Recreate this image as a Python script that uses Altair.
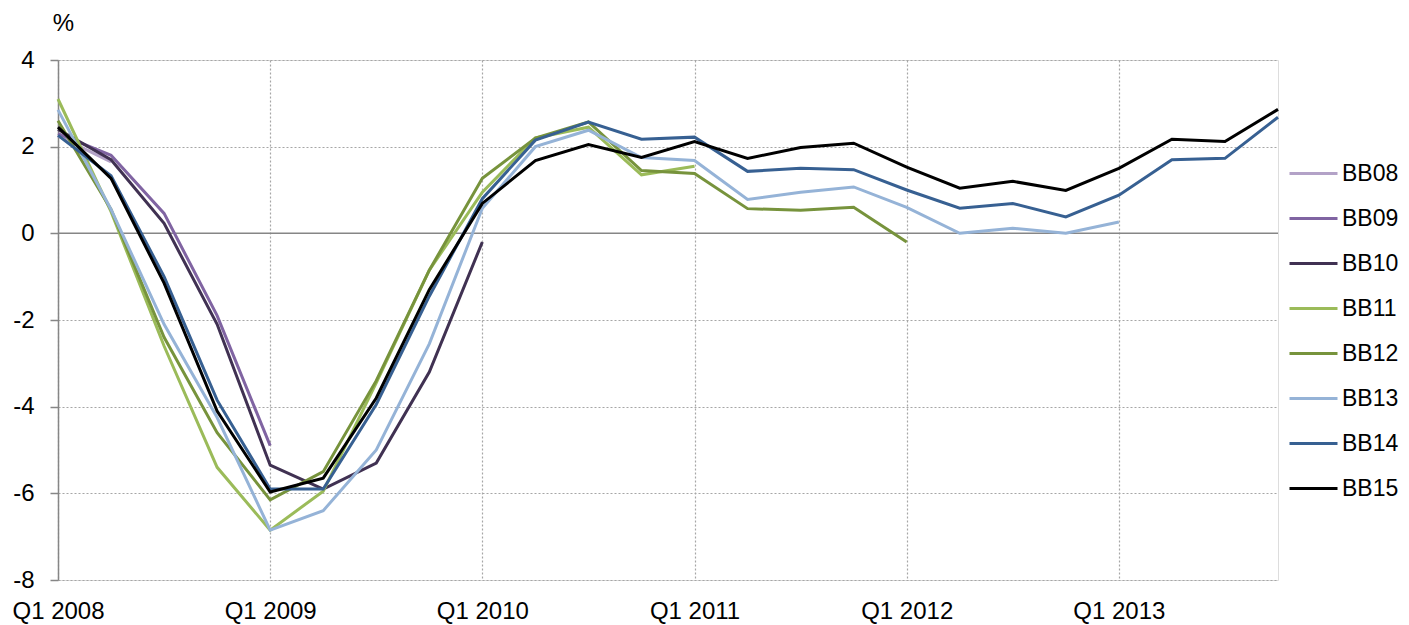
import altair as alt
import pandas as pd

quarters = ["Q1 2008", "Q2 2008", "Q3 2008", "Q4 2008",
            "Q1 2009", "Q2 2009", "Q3 2009", "Q4 2009",
            "Q1 2010", "Q2 2010", "Q3 2010", "Q4 2010",
            "Q1 2011", "Q2 2011", "Q3 2011", "Q4 2011",
            "Q1 2012", "Q2 2012", "Q3 2012", "Q4 2012",
            "Q1 2013", "Q2 2013", "Q3 2013", "Q4 2013"]
year_ticks = ["Q1 2008", "Q1 2009", "Q1 2010", "Q1 2011", "Q1 2012", "Q1 2013"]

series_names = ["BB08", "BB09", "BB10", "BB11", "BB12", "BB13", "BB14", "BB15"]
series_colors = ["#b3a2c7", "#8064a2", "#403152", "#9bbb59", "#77933c", "#95b3d7", "#376092", "#000000"]

bb08 = [2.25, 1.65]
bb09 = [2.3, 1.8, 0.46, -1.9, -4.9]
bb10 = [2.4, 1.7, 0.23, -2.1, -5.35, -5.9, -5.3, -3.2, -0.2]
bb11 = [3.1, 0.5, -2.6, -5.4, -6.85, -5.95, -3.45, -0.85, 0.95, 2.2, 2.45, 1.35, 1.55]
bb12 = [2.6, 0.55, -2.4, -4.6, -6.15, -5.5, -3.4, -0.85, 1.27, 2.2, 2.57, 1.45, 1.38, 0.57, 0.53, 0.6, -0.2]
bb13 = [2.85, 0.55, -2.1, -4.25, -6.85, -6.4, -5.0, -2.55, 0.58, 2.0, 2.38, 1.75, 1.68, 0.78, 0.95, 1.07,
        0.6, 0.0, 0.12, 0.0, 0.26]
bb14 = [2.26, 1.33, -1.0, -3.85, -5.9, -5.9, -3.95, -1.45, 0.8, 2.15, 2.57, 2.17, 2.22, 1.43, 1.5, 1.47,
        1.0, 0.58, 0.69, 0.38, 0.88, 1.7, 1.73, 2.68]
bb15 = [2.45, 1.27, -1.15, -4.1, -5.97, -5.65, -3.8, -1.3, 0.69, 1.68, 2.05, 1.75, 2.12, 1.73, 1.98, 2.08,
        1.53, 1.04, 1.2, 0.99, 1.5, 2.17, 2.12, 2.86]

all_series = [bb08, bb09, bb10, bb11, bb12, bb13, bb14, bb15]

rows = []
for order, (name, vals) in enumerate(zip(series_names, all_series)):
    for q, v in zip(quarters, vals):
        rows.append({"quarter": q, "value": v, "series": name, "order": order})
df = pd.DataFrame(rows)

FONT = "Liberation Sans"
FS = 24

x_enc = alt.X("quarter:O",
              scale=alt.Scale(type="point", domain=quarters, padding=0),
              axis=alt.Axis(values=year_ticks, title=None, labelAngle=0, domain=False, ticks=False,
                            labelPadding=19, labelFontSize=FS, labelFont=FONT, labelColor="#000",
                            grid=True, gridColor="#a6a6a6", gridDash=[2, 2], gridWidth=1.2))

lines = alt.Chart(df).mark_line(strokeWidth=3).encode(
    x=x_enc,
    y=alt.Y("value:Q",
            scale=alt.Scale(domain=[-8, 4], nice=False, zero=False),
            axis=alt.Axis(values=[-8, -6, -4, -2, 0, 2, 4], title="%", titleAngle=0,
                          labelExpr="datum.value + ''",
                          titleX=5, titleY=-25, titleAlign="center", titleBaseline="bottom",
                          titleFontSize=FS, titleFont=FONT, titleFontWeight="normal", titleColor="#000",
                          labelFontSize=FS, labelFont=FONT, labelColor="#000", labelPadding=16,
                          domain=True, domainColor="#868686", domainWidth=1.5,
                          ticks=True, tickSize=8, tickColor="#868686", tickWidth=1.5,
                          grid=True, gridColor="#a6a6a6", gridDash=[2, 2], gridWidth=1.2)),
    color=alt.Color("series:N",
                    scale=alt.Scale(domain=series_names, range=series_colors),
                    legend=alt.Legend(title=None, orient="none", legendX=1230, legendY=88,
                                      symbolType="stroke", symbolStrokeWidth=3, symbolSize=2304,
                                      labelFontSize=23, labelFont=FONT, labelColor="#000",
                                      labelOffset=3, rowPadding=7)),
    order=alt.Order("order:Q"),
)

zero_df = pd.DataFrame({"value": [0]})
zero_rule = alt.Chart(zero_df).mark_rule(color="#868686", strokeWidth=1.5).encode(
    y=alt.Y("value:Q")
)

chart = alt.layer(zero_rule, lines).properties(
    width=1220, height=520,
    autosize=alt.AutoSizeParams(type="none"),
    padding={"left": 50, "top": 52, "right": 123, "bottom": 45},
).configure_view(stroke=None).configure(font=FONT)

chart.save("out.html", embed_options={"renderer": "svg", "actions": False})
